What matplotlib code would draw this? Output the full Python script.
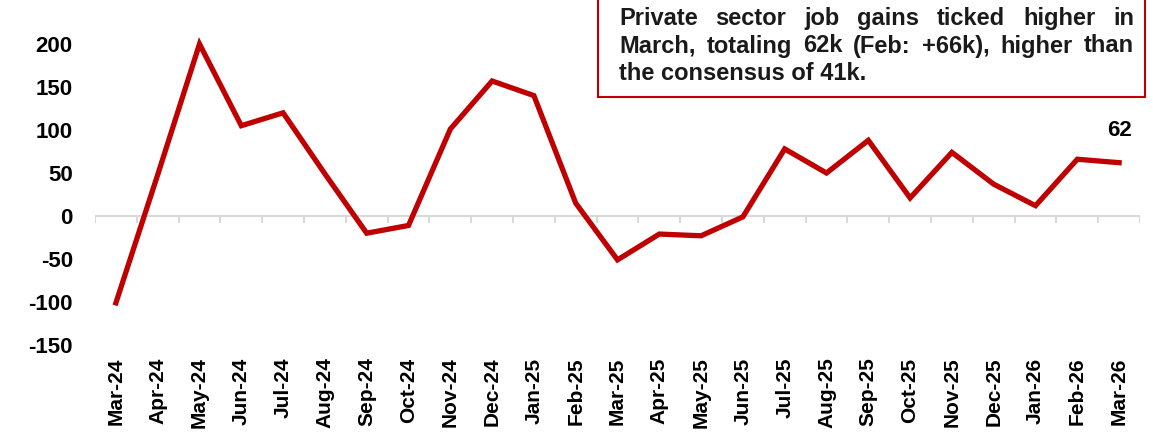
import matplotlib
matplotlib.use("Agg")
import matplotlib.pyplot as plt
from matplotlib.patches import Rectangle

plt.rcParams['font.family'] = ['Liberation Sans', 'DejaVu Sans']
plt.rcParams['font.weight'] = 'bold'

months = ["Mar-24", "Apr-24", "May-24", "Jun-24", "Jul-24", "Aug-24", "Sep-24",
          "Oct-24", "Nov-24", "Dec-24", "Jan-25", "Feb-25", "Mar-25", "Apr-25",
          "May-25", "Jun-25", "Jul-25", "Aug-25", "Sep-25", "Oct-25", "Nov-25",
          "Dec-25", "Jan-26", "Feb-26", "Mar-26"]
job_gains = [-101, 48, 200, 105, 120, 49, -20, -11, 101, 157, 140, 15, -51,
             -21, -23, -1, 78, 50, 88, 21, 74, 37, 12, 66, 62]
yticks = [-150, -100, -50, 0, 50, 100, 150, 200]
note_lines = ["Private sector job gains ticked higher in",
              "March, totaling 62k (Feb: +66k), higher than",
              "the consensus of 41k."]

W, H = 1153, 448
RED = "#c00000"

fig = plt.figure(figsize=(W / 100, H / 100), dpi=100)
ax = fig.add_axes([95 / W, 1 - 345 / H, 1045 / W, 344 / H])

x = list(range(len(months)))
ax.plot(x, job_gains, color=RED, lw=3.8, solid_joinstyle="miter", zorder=3)

# zero line with category-boundary ticks
ax.axhline(0, color="#d9d9d9", lw=1.5, zorder=1)
ax.vlines([i - 0.5 for i in range(len(months) + 1)], -8, 0,
          color="#d9d9d9", lw=1.5, zorder=1)

ax.set_xlim(-0.5, len(months) - 0.5)
ax.set_ylim(-150, 250)
ax.set_yticks(yticks)
ax.set_yticklabels([str(v) for v in yticks], fontsize=16, fontweight="bold")
ax.set_xticks(x)
ax.set_xticklabels(months, rotation=90, fontsize=15, fontweight="bold")
ax.tick_params(axis="y", length=0, pad=16)
ax.tick_params(axis="x", length=0, pad=9)
for s in ax.spines.values():
    s.set_visible(False)

ax.annotate(str(job_gains[-1]), (x[-1], job_gains[-1]), xytext=(0, 23),
            textcoords="offset points", ha="center", va="center",
            fontsize=16, fontweight="bold")

# note box
fig.patches.append(Rectangle((598 / W, 1 - 97 / H), 547 / W, 120 / H,
                             transform=fig.transFigure, fill=True,
                             facecolor="white", edgecolor=RED, lw=1.5,
                             clip_on=False, zorder=5))

renderer = fig.canvas.get_renderer()
x0, x1 = 619 / W, 1134 / W
for i, line in enumerate(note_lines):
    y = 1 - (25 + i * 27.5) / H
    kw = dict(fontsize=17, fontweight="bold", color="#1a1a1a",
              va="baseline", ha="left", zorder=6)
    if i == len(note_lines) - 1:
        fig.text(x0, y, line, **kw)
        continue
    words = line.split()
    objs = [fig.text(0, y, w, **kw) for w in words]
    widths = [o.get_window_extent(renderer).width / W for o in objs]
    gap = (x1 - x0 - sum(widths)) / (len(words) - 1)
    pos = x0
    for o, w in zip(objs, widths):
        o.set_x(pos)
        pos += w + gap

fig.savefig("out.png", dpi=100)
